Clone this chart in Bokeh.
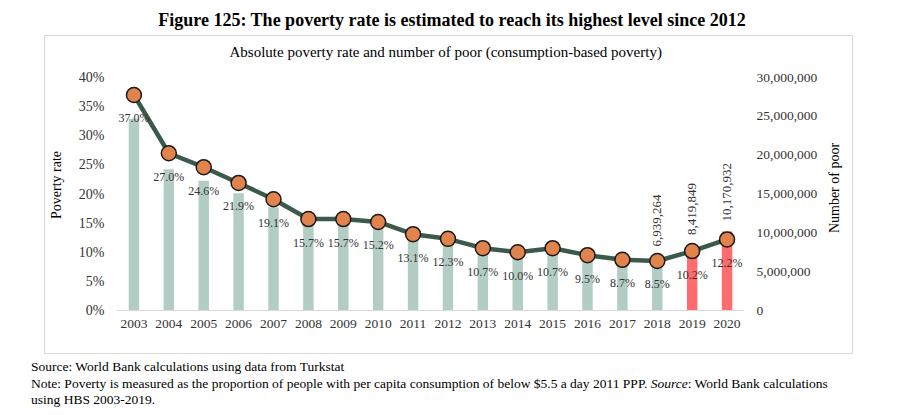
from math import pi
from bokeh.plotting import figure
from bokeh.layouts import column, row
from bokeh.models import (Range1d, LinearAxis, FixedTicker, NumeralTickFormatter,
                          PrintfTickFormatter, ColumnDataSource, Div)
from bokeh.embed import file_html
from bokeh.resources import INLINE
from bokeh.core.properties import value

# ---------------- data ----------------
years = ["2003", "2004", "2005", "2006", "2007", "2008", "2009", "2010", "2011",
         "2012", "2013", "2014", "2015", "2016", "2017", "2018", "2019", "2020"]
poverty_rate = [37.0, 27.0, 24.6, 21.9, 19.1, 15.7, 15.7, 15.2, 13.1,
                12.3, 10.7, 10.0, 10.7, 9.5, 8.7, 8.5, 10.2, 12.2]
number_of_poor = [24700000, 18200000, 16700000, 15100000, 13300000, 11100000,
                  11200000, 11000000, 9700000, 9200000, 8100000, 7700000,
                  8400000, 7500000, 7000000, 6939264, 8419849, 10170932]
highlight_years = ["2019", "2020"]
labelled_poor_years = ["2018", "2019", "2020"]
rate_ticks = [0, 5, 10, 15, 20, 25, 30, 35, 40]
poor_ticks = [0, 5000000, 10000000, 15000000, 20000000, 25000000, 30000000]

title_text = "Figure 125: The poverty rate is estimated to reach its highest level since 2012"
subtitle_text = "Absolute poverty rate and number of poor (consumption-based poverty)"
left_axis_title = "Poverty rate"
right_axis_title = "Number of poor"
source_line1 = "Source: World Bank calculations using data from Turkstat"
note_part1 = "Note: Poverty is measured as the proportion of people with per capita consumption of below $5.5 a day 2011 PPP."
note_part2 = "Source"
note_part3 = ": World Bank calculations"
note_line3 = "using HBS 2003-2019."

# ---------------- styles ----------------
FONT = "Liberation Serif"
BAR_COLOR = "#B3CCC4"
BAR_HIGHLIGHT = "#FF6B6E"
LINE_COLOR = "#3B5A4C"
MARKER_COLOR = "#E0834C"
TEXT_COLOR = "#333333"

bar_colors = [BAR_HIGHLIGHT if y in highlight_years else BAR_COLOR for y in years]
rate_labels = [f"{r:.1f}%" for r in poverty_rate]

src = ColumnDataSource(dict(year=years, rate=poverty_rate, poor=number_of_poor,
                            color=bar_colors, rate_label=rate_labels))
lab_idx = [years.index(y) for y in labelled_poor_years]
src_num = ColumnDataSource(dict(year=[years[i] for i in lab_idx],
                                poor=[number_of_poor[i] for i in lab_idx],
                                txt=[f"{number_of_poor[i]:,}" for i in lab_idx]))

PAGE_W = 900
TOP_H = 36          # strip above the chart box
BOX_X = 45          # chart box left edge on page
BOX_W, H = 807, 317 # chart box
LAB_W = 30          # strip holding the right axis title
W = BOX_W - LAB_W
NOTE_H = 62         # strip below the chart box
BL, BR, BT, BB = 69, 78, 23, 43
AXIS_PX = 233       # pixel height between 0 and the top tick
frame_h = H - BT - BB
rate_top = rate_ticks[-1] * frame_h / AXIS_PX
poor_top = poor_ticks[-1] * frame_h / AXIS_PX

# ---------------- title strip ----------------
title_html = (
    f'<div style="position:relative;width:{PAGE_W}px;height:{TOP_H}px;'
    f'font-family:\'{FONT}\';color:#000;">'
    f'<div style="position:absolute;left:0;top:10px;width:904px;text-align:center;'
    f'font-weight:bold;font-size:18px;line-height:20px;white-space:nowrap;">'
    f'{title_text}</div></div>'
)
ft = Div(text=title_html, width=PAGE_W, height=TOP_H, margin=0)

# ---------------- chart ----------------
p = figure(x_range=years, y_range=Range1d(0, rate_top), width=W, height=H,
           output_backend="svg", toolbar_location=None,
           min_border_left=BL, min_border_right=BR, min_border_top=BT, min_border_bottom=BB)
p.x_range.range_padding = 0
p.extra_y_ranges = {"poor": Range1d(0, poor_top)}
p.outline_line_color = None
p.xgrid.grid_line_color = None
p.ygrid.grid_line_color = None
p.background_fill_color = "white"
p.border_fill_color = "white"
p.margin = 0

p.title.text = subtitle_text
p.title.align = "left"
p.title.offset = 113
p.title.standoff = 0
p.title.text_font = FONT
p.title.text_font_size = "15px"
p.title.text_font_style = "normal"
p.title.text_color = "#000000"

# bars (number of poor, right axis)
p.vbar(x="year", top="poor", width=0.3, source=src, y_range_name="poor",
       fill_color="color", line_color=None)
# line (poverty rate, left axis)
p.line(x="year", y="rate", source=src, line_color=LINE_COLOR, line_width=4.5)
p.scatter(x="year", y="rate", source=src, size=15, fill_color=MARKER_COLOR,
          line_color="#1a1a1a", line_width=1.5)
# labels
p.text(x="year", y="rate", text="rate_label", source=src, text_align="center",
       text_baseline="middle", y_offset=23.5, text_font=value(FONT),
       text_font_size="12px", text_color=TEXT_COLOR)
p.text(x="year", y="poor", text="txt", source=src_num, y_range_name="poor",
       angle=pi / 2, text_align="left", text_baseline="middle", y_offset=-10,
       text_font=value(FONT), text_font_size="13px", text_color=TEXT_COLOR)

# axes
ya = p.yaxis[0]
ya.ticker = FixedTicker(ticks=rate_ticks)
ya.formatter = PrintfTickFormatter(format="%d%%")
ya.axis_line_color = None
ya.major_tick_line_color = None
ya.minor_tick_line_color = None
ya.major_tick_out = 0
ya.major_tick_in = 0
ya.major_label_standoff = 12
ya.major_label_text_font = FONT
ya.major_label_text_font_size = "14px"
ya.major_label_text_color = TEXT_COLOR
ya.axis_label = left_axis_title
ya.axis_label_text_font = FONT
ya.axis_label_text_font_size = "14px"
ya.axis_label_text_font_style = "normal"
ya.axis_label_text_color = "#000000"
ya.axis_label_standoff = 12

ra = LinearAxis(y_range_name="poor", ticker=FixedTicker(ticks=poor_ticks),
                formatter=NumeralTickFormatter(format="0,0"))
ra.axis_line_color = None
ra.major_tick_line_color = None
ra.minor_tick_line_color = None
ra.major_tick_out = 0
ra.major_tick_in = 0
ra.major_label_standoff = 12
ra.major_label_text_font = FONT
ra.major_label_text_font_size = "13.5px"
ra.major_label_text_color = TEXT_COLOR
p.add_layout(ra, "right")

xa = p.xaxis[0]
xa.axis_line_color = "#D9D9D9"
xa.axis_line_width = 1
xa.major_tick_line_color = None
xa.minor_tick_line_color = None
xa.major_tick_out = 0
xa.major_tick_in = 0
xa.major_label_standoff = 9
xa.major_label_text_font = FONT
xa.major_label_text_font_size = "13.5px"
xa.major_label_text_color = TEXT_COLOR

# right axis title (reads bottom-to-top, like the reference)
rlab_html = (
    f'<div style="position:relative;width:{LAB_W}px;height:{H}px;">'
    f'<div style="position:absolute;left:13px;top:152px;'
    f'transform:translate(-50%,-50%) rotate(-90deg);white-space:nowrap;'
    f'font-family:\'{FONT}\';font-size:14px;line-height:16px;color:#000;">'
    f'{right_axis_title}</div></div>'
)
rlab = Div(text=rlab_html, width=LAB_W, height=H, margin=0)

box = row(p, rlab, spacing=0, margin=(0, 0, 0, BOX_X),
          styles={"outline": "1px solid #D9D9D9", "background-color": "white"})

# ---------------- notes strip ----------------
notes_html = (
    f'<div style="position:relative;width:{PAGE_W}px;height:{NOTE_H}px;'
    f'font-family:\'{FONT}\';color:#000;font-size:13.5px;">'
    f'<div style="position:absolute;left:31px;top:6px;line-height:16.5px;white-space:nowrap;">'
    f'{source_line1}<br>{note_part1} <i>{note_part2}</i>{note_part3}<br>{note_line3}'
    f'</div></div>'
)
fn = Div(text=notes_html, width=PAGE_W, height=NOTE_H, margin=0)

layout = column(ft, box, fn, spacing=0)
open("out.html", "w").write(file_html(layout, INLINE))
